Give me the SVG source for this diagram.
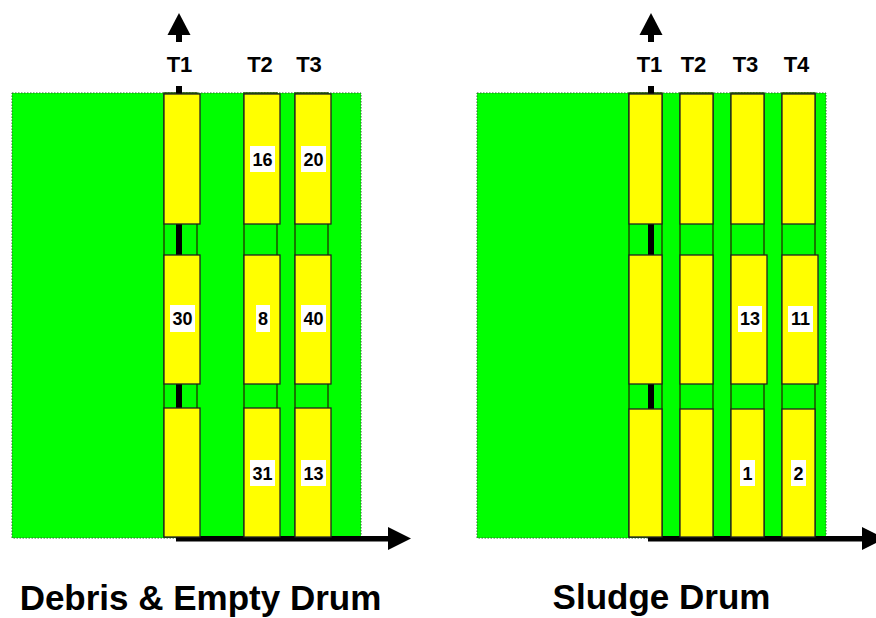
<svg xmlns="http://www.w3.org/2000/svg" width="876" height="618" viewBox="0 0 876 618">
<style>
.panel{fill:#00ff00;stroke:#2a6a2a;stroke-width:1;stroke-dasharray:1.5,1.5}
.col{fill:#00ff00;stroke:#1e4d00;stroke-width:1.5}
.box{fill:#ffff00;stroke:#222;stroke-width:1.3}
.lbl{fill:#fff}
.num{font-family:"Liberation Sans",Arial,sans-serif;font-weight:bold;font-size:18px;fill:#000;text-anchor:middle}
.axl{font-family:"Liberation Sans",Arial,sans-serif;font-weight:bold;font-size:22px;fill:#000;text-anchor:middle}
.title{font-family:"Liberation Sans",Arial,sans-serif;font-weight:bold;font-size:35px;fill:#000;text-anchor:middle}
.shaft{fill:#000}
</style>
<rect width="876" height="618" fill="#fff"/>

<!-- Left panel -->
<g id="panel-left">
<rect class="panel" x="12" y="93" width="349" height="445"/>
<rect class="col" x="164" y="93" width="33" height="444"/>
<rect class="col" x="244" y="93" width="33" height="444"/>
<rect class="col" x="295" y="93" width="33" height="444"/>
</g>

<g id="connectors-left">
<rect class="shaft" x="176" y="35" width="6" height="7"/>
<rect class="shaft" x="176" y="86" width="6" height="451"/>
<polygon points="179,13 190.5,35 167.5,35"/>
<rect class="shaft" x="176" y="536" width="213" height="5.5"/>
<polygon points="411,538.5 388,527 388,550"/>
</g>

<g id="left-T1">
<rect class="box" x="164" y="94" width="36" height="130"/>
<rect class="box" x="164" y="255" width="36" height="129"/>
<rect class="box" x="164" y="408" width="36" height="129"/>
<rect class="lbl" x="170" y="305" width="25" height="27"/>
<text class="num" x="182.5" y="325">30</text>
</g>
<g id="left-T2">
<rect class="box" x="244" y="94" width="36" height="130"/>
<rect class="box" x="244" y="255" width="36" height="129"/>
<rect class="box" x="244" y="408" width="36" height="129"/>
<rect class="lbl" x="250" y="146" width="25" height="26"/>
<text class="num" x="262.5" y="166">16</text>
<rect class="lbl" x="256" y="305" width="14" height="27"/>
<text class="num" x="263" y="325">8</text>
<rect class="lbl" x="250" y="460" width="25" height="26"/>
<text class="num" x="262.5" y="480">31</text>
</g>
<g id="left-T3">
<rect class="box" x="295" y="94" width="36" height="130"/>
<rect class="box" x="295" y="255" width="36" height="129"/>
<rect class="box" x="295" y="408" width="36" height="129"/>
<rect class="lbl" x="301" y="146" width="25" height="26"/>
<text class="num" x="313.5" y="166">20</text>
<rect class="lbl" x="301" y="305" width="25" height="27"/>
<text class="num" x="313.5" y="325">40</text>
<rect class="lbl" x="301" y="460" width="25" height="26"/>
<text class="num" x="313.5" y="480">13</text>
</g>
<g id="left-labels">
<text class="axl" x="179.5" y="72">T1</text>
<text class="axl" x="260" y="72">T2</text>
<text class="axl" x="309" y="72">T3</text>
<text class="title" x="200.5" y="610">Debris &amp; Empty Drum</text>
</g>

<!-- Right panel -->
<g id="panel-right">
<rect class="panel" x="477" y="93" width="349" height="445"/>
<rect class="col" x="629" y="93" width="33" height="444"/>
<rect class="col" x="680" y="93" width="33" height="444"/>
<rect class="col" x="731" y="93" width="33" height="444"/>
<rect class="col" x="782" y="93" width="33" height="444"/>
</g>

<g id="connectors-right">
<rect class="shaft" x="648" y="35" width="6" height="7"/>
<rect class="shaft" x="648" y="86" width="6" height="451"/>
<polygon points="651,13 662.5,35 639.5,35"/>
<rect class="shaft" x="648" y="536" width="215" height="5.5"/>
<polygon points="885,538.5 862,527 862,550"/>
</g>

<g id="right-T1">
<rect class="box" x="629" y="94" width="33" height="130"/>
<rect class="box" x="629" y="255" width="33" height="129"/>
<rect class="box" x="629" y="409" width="33" height="128"/>
</g>
<g id="right-T2">
<rect class="box" x="680" y="94" width="33" height="130"/>
<rect class="box" x="680" y="255" width="33" height="129"/>
<rect class="box" x="680" y="409" width="33" height="128"/>
</g>
<g id="right-T3">
<rect class="box" x="731" y="94" width="33" height="130"/>
<rect class="box" x="731" y="255" width="36" height="129"/>
<rect class="box" x="731" y="409" width="33" height="128"/>
<rect class="lbl" x="738" y="306" width="24" height="26"/>
<text class="num" x="750" y="325">13</text>
<rect class="lbl" x="740" y="460" width="15" height="26"/>
<text class="num" x="747.5" y="480">1</text>
</g>
<g id="right-T4">
<rect class="box" x="782" y="94" width="33" height="130"/>
<rect class="box" x="782" y="255" width="36" height="129"/>
<rect class="box" x="782" y="409" width="33" height="128"/>
<rect class="lbl" x="788" y="306" width="25" height="26"/>
<text class="num" x="800.5" y="325">11</text>
<rect class="lbl" x="791" y="460" width="15" height="26"/>
<text class="num" x="798.5" y="480">2</text>
</g>
<g id="right-labels">
<text class="axl" x="649.5" y="72">T1</text>
<text class="axl" x="693.5" y="72">T2</text>
<text class="axl" x="745.5" y="72">T3</text>
<text class="axl" x="796.5" y="72">T4</text>
<text class="title" x="661.5" y="609">Sludge Drum</text>
</g>
</svg>
